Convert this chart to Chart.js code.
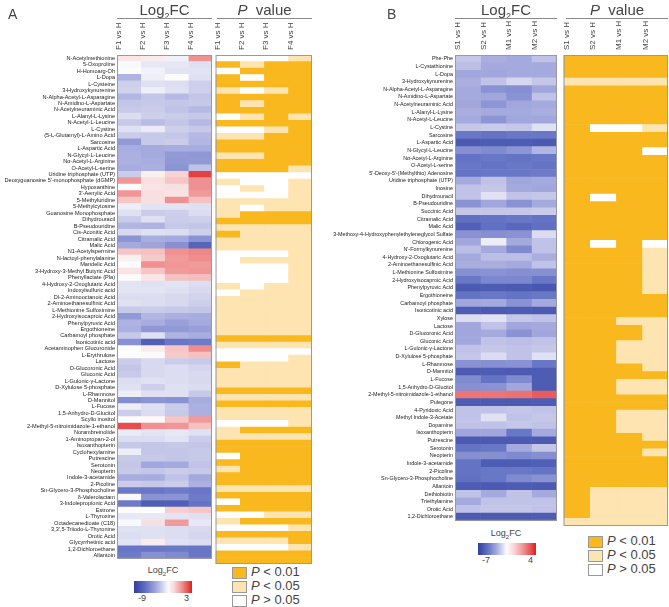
<!DOCTYPE html>
<html><head><meta charset="utf-8">
<script src="https://cdn.jsdelivr.net/npm/chart.js@4.4.1/dist/chart.umd.min.js"></script>
<style>
body{margin:0;background:#fff;font-family:"Liberation Sans",Arial,sans-serif;}
#wrap{position:relative;width:669px;height:607px;overflow:hidden;}
canvas{position:absolute;}
.t{position:absolute;color:#444;white-space:nowrap;}
.hdr{font-size:15px;text-align:center;}
.line{position:absolute;height:1px;background:#888;}
.box{position:absolute;width:13px;height:10px;border:1px solid #999;}
.lg{position:absolute;font-size:13px;color:#444;}
</style></head><body><div id="wrap">
<canvas id="aFC" width="212" height="564" style="left:0px;top:0px"></canvas>
<canvas id="aP" width="99" height="564" style="left:213px;top:0px"></canvas>
<canvas id="bFC" width="227" height="526" style="left:330px;top:0px"></canvas>
<canvas id="bP" width="106" height="526" style="left:562px;top:0px"></canvas>
</div>
<script>
// ---------- DATA ----------
const colsA = ['F1 vs H','F2 vs H','F3 vs H','F4 vs H'];
const colsB = ['S1 vs H','S2 vs H','M1 vs H','M2 vs H'];
const rowsA = ['N-Acetylmethionine','5-Oxoproline','H-Homoarg-Oh','L-Dopa','L-Cysteine','3-Hydroxykynurenine','N-Alpha-Acetyl-L-Asparagine','N-Amidino-L-Aspartate','N-Acetylneuraminic Acid','L-Alanyl-L-Lysine','N-Acetyl-L-Leucine','L-Cystine','(5-L-Glutamyl)-L-Amino Acid','Sarcosine','L-Aspartic Acid','N-Glycyl-L-Leucine','Nα-Acetyl-L-Arginine','O-Acetyl-L-serine','Uridine triphosphate (UTP)',"Deoxyguanosine 5'-monophosphate (dGMP)",'Hypoxanthine',"3'-Aenylic Acid",'5-Methyluridine','5-Methylcytosine','Guanosine Monophosphate','Dihydrouracil','B-Pseudouridine','Cis-Aconitic Acid','Citramalic Acid','Malic Acid','N1-Acetylspermine','N-lactoyl-phenylalanine','Mandelic Acid','3-Hydroxy-3-Methyl Butyric Acid','Phenyllactate (Pla)','4-Hydroxy-2-Oxoglutaric Acid','Indoxylsulfuric acid','Dl-2-Aminooctanoic Acid','2-Aminoethanesulfinic Acid','L-Methionine Sulfoximine','2-Hydroxyisocaproic Acid','Phenylpyruvic Acid','Ergothioneine','Carbamoyl phosphate','Isonicotinic acid','Acetaminophen Glucuronide','L-Erythrulose','Lactose','D-Glucoronic Acid','Gluconic Acid','L-Gulonic-γ-Lactone','D-Xylulose 5-phosphate','L-Rhamnose','D-Mannitol','L-Fucose','1,5-Anhydro-D-Glucitol','Scyllo inositol','2-Methyl-5-nitroimidazole-1-ethanol','Norambreinolide','1-Aminopropan-2-ol','Isoxanthopterin','Cyclohexylamine','Putrescine','Serotonin','Neopterin','Indole-3-acetamide','2-Picoline','Sn-Glycero-3-Phosphocholine','δ-Valerolactam','3-Indolepropionic Acid','Estrone','L-Thyroxine','Octadecanedioate (C18)',"3,3',5-Triiodo-L-Thyronine",'Orotic Acid','Glycyrrhetinic acid','1,2-Dichloroethane','Allantoin'];
const fcF1 = [-1.2,-2.0,-1.9,-4.1,-3.2,-3.1,-4.0,-3.5,-3.4,-2.8,-3.4,-2.7,-3.3,-5.0,-4.3,-4.2,-4.2,-4.3,-3.3,0.8,-1.9,0.8,-0.3,-2.3,-2.7,-3.3,-4.0,-2.9,-5.2,-4.4,-0.3,-1.5,-1.9,-1.1,-1.9,-2.6,-2.6,-2.8,-2.7,-3.4,-5.0,-4.1,-4.2,-3.4,-5.4,-1.9,-1.9,-3.3,-3.5,-3.4,-2.8,-2.7,-2.3,-5.5,-2.3,-3.3,-1.9,2.2,-2.4,-2.8,-3.4,-2.3,-3.4,-3.5,-3.4,-4.3,-3.3,-6.3,-2.0,-6.2,-1.9,-2.5,-2.0,-2.7,-2.8,-2.6,-6.4,-6.2];
const fcF2 = [-1.4,-2.5,-2.2,-2.3,-2.7,-2.3,-3.5,-3.4,-3.3,-3.2,-3.8,-2.4,-3.4,-3.4,-4.4,-4.4,-4.3,-4.2,-1.5,-1.0,-1.1,-1.0,-1.0,-2.6,-3.3,-2.7,-4.1,-2.7,-4.3,-4.6,-0.2,-0.4,0.9,-0.3,-1.2,-2.7,-2.6,-2.8,-2.8,-3.3,-4.0,-4.3,-5.1,-2.7,-7.4,-1.4,-1.8,-2.9,-2.9,-2.9,-2.7,-3.2,-2.7,-5.2,-2.7,-2.8,-1.8,0.9,-2.6,-2.8,-3.5,-3.5,-3.4,-4.5,-3.5,-4.3,-3.4,-6.4,-5.3,-7.5,-1.9,-2.5,-1.0,-2.7,-2.7,-1.4,-6.4,-5.4];
const fcF3 = [-2.2,-2.5,-2.6,-1.9,-2.8,-2.7,-3.9,-3.5,-3.6,-3.3,-3.5,-3.2,-3.5,-3.3,-4.3,-5.0,-5.1,-5.2,-0.6,-0.3,-1.0,-1.1,0.9,-2.6,-3.2,-3.3,-3.4,-2.8,-4.4,-5.4,0.9,0.7,0.8,0.7,-0.2,-2.6,-2.7,-2.9,-2.9,-3.4,-4.2,-4.8,-5.0,-4.1,-6.4,-0.3,-0.4,-3.3,-2.8,-2.8,-2.8,-2.7,-2.7,-5.3,-3.3,-3.4,-0.3,0.8,-2.5,-2.6,-3.4,-3.5,-3.5,-4.4,-3.3,-3.6,-3.3,-6.2,-5.2,-7.4,-0.5,-2.6,0.7,-2.8,-2.8,-2.7,-6.3,-5.6];
const fcF4 = [0.9,-2.7,-2.6,-2.7,-3.2,-3.2,-3.5,-3.4,-3.9,-3.4,-3.9,-3.4,-3.9,-4.0,-4.3,-5.1,-5.0,-3.6,2.4,0.9,0.9,0.7,-0.2,-2.7,-2.8,-3.2,-3.5,-3.2,-5.3,-7.2,1.1,1.0,0.7,0.8,-0.1,-2.8,-2.9,-3.1,-3.2,-3.5,-4.3,-4.4,-4.8,-4.3,-6.2,1.0,-0.2,-3.4,-3.0,-2.9,-2.9,-2.8,-3.4,-4.3,-4.2,-4.2,0.7,-0.2,-2.7,-3.3,-3.5,-3.4,-3.4,-3.6,-3.4,-4.4,-4.2,-6.4,-6.2,-6.5,-0.3,-2.7,-2.5,-2.9,-3.0,-2.8,-6.4,-6.4];
// P categories: 2 = P<0.01, 1 = P<0.05, 0 = P>0.05
const pF1 = [0,2,0,2,2,1,2,2,2,0,2,0,1,2,2,1,2,2,0,1,0,0,1,1,1,2,1,2,1,1,0,0,0,0,0,1,0,1,1,1,1,1,1,2,1,0,0,2,1,1,1,2,1,2,1,1,0,1,1,2,2,0,2,1,2,2,1,2,0,2,0,1,0,2,1,0,2,2];
const pF2 = [0,1,2,0,2,0,2,1,2,1,2,0,1,2,2,1,2,2,0,0,1,0,1,0,2,2,1,1,1,1,0,1,0,0,0,0,1,1,1,1,1,1,1,2,1,0,0,1,1,1,1,2,1,2,1,1,0,2,1,2,2,2,2,2,2,2,1,2,2,2,0,2,0,2,1,0,2,2];
const pF3 = [0,2,2,2,2,1,2,2,2,2,2,1,2,2,2,2,2,2,0,0,0,0,1,1,2,2,1,1,1,1,0,1,0,0,0,1,1,1,1,1,1,1,1,2,1,0,0,1,1,1,1,2,1,2,1,1,0,2,1,2,2,2,2,2,2,2,1,2,2,2,1,2,0,2,1,0,2,2];
const pF4 = [1,2,2,2,2,2,2,2,2,1,2,2,2,2,2,2,2,1,0,1,1,1,1,1,2,2,1,1,1,1,1,1,1,1,1,1,1,1,1,1,1,1,1,2,1,0,1,1,1,1,1,2,1,2,1,1,1,2,1,2,2,2,2,2,2,2,1,2,2,2,1,2,1,2,2,1,2,2];

const rowsB = ['Phe-Phe','L-Cystathionine','L-Dopa','3-Hydroxykynurenine','N-Alpha-Acetyl-L-Asparagine','N-Amidino-L-Aspartate','N-Acetylneuraminic Acid','L-Alanyl-L-Lysine','N-Acetyl-L-Leucine','L-Cystine','Sarcosine','L-Aspartic Acid','N-Glycyl-L-Leucine','Nα-Acetyl-L-Arginine','O-Acetyl-L-serine',"5'-Deoxy-5'-(Methylthio) Adenosine",'Uridine triphosphate (UTP)','Inosine','Dihydrouracil','B-Pseudouridine','Succinic Acid','Citramalic Acid','Malic Acid','3-Methoxy-4-Hydroxyphenylethyleneglycol Sulfate','Chlorogenic Acid',"N'-Formylkynurenine",'4-Hydroxy-2-Oxoglutaric Acid','2-Aminoethanesulfinic Acid','L-Methionine Sulfoximine','2-Hydroxyisocaproic Acid','Phenylpyruvic Acid','Ergothioneine','Carbamoyl phosphate','Isonicotinic acid','Xylose','Lactose','D-Glucoronic Acid','Gluconic Acid','L-Gulonic-γ-Lactone','D-Xylulose 5-phosphate','L-Rhamnose','D-Mannitol','L-Fucose','1,5-Anhydro-D-Glucitol','2-Methyl-5-nitroimidazole-1-ethanol','Pulegone','4-Pyridoxic Acid','Methyl Indole-3-Acetate','Dopamine','Isoxanthopterin','Putrescine','Serotonin','Neopterin','Indole-3-acetamide','2-Picoline','Sn-Glycero-3-Phosphocholine','Allantoin','Dethiobiotin','Triethylamine','Orotic Acid','1,2-Dichloroethane'];
const fcS1 = [-2.8,-3.0,-3.6,-3.4,-3.5,-3.5,-3.6,-3.4,-3.5,-2.8,-5.0,-6.0,-4.3,-5.1,-5.0,-5.1,-3.5,-2.9,-2.9,-4.2,-2.8,-5.2,-5.8,-4.2,-3.6,-3.0,-3.5,-3.4,-4.3,-5.0,-6.0,-5.1,-3.6,-5.9,-2.3,-3.6,-3.6,-3.6,-2.9,-2.8,-4.2,-6.0,-4.4,-4.3,2.2,-5.9,-2.9,-2.9,-2.9,-3.6,-6.0,-5.1,-4.3,-5.1,-5.1,-5.2,-5.9,-2.9,-3.5,-2.9,-6.0];
const fcS2 = [-3.4,-3.5,-3.6,-2.9,-4.2,-3.6,-4.1,-3.5,-4.1,-2.7,-5.1,-5.9,-4.4,-5.0,-5.1,-5.0,-2.9,-2.8,-2.2,-3.6,-2.8,-5.1,-5.2,-4.3,-1.9,-3.5,-3.0,-3.4,-4.2,-4.5,-5.9,-5.0,-3.5,-6.0,-2.2,-2.9,-3.5,-2.9,-2.8,-2.3,-4.3,-5.9,-5.1,-4.2,2.2,-6.0,-2.9,-2.2,-2.9,-3.6,-6.0,-5.0,-4.3,-5.9,-5.0,-5.0,-6.0,-3.5,-2.9,-2.8,-6.0];
const fcM1 = [-3.5,-3.5,-3.5,-2.4,-4.3,-4.2,-3.6,-3.5,-3.6,-2.8,-5.0,-5.9,-4.1,-5.1,-5.0,-5.0,-3.6,-3.5,-2.9,-4.2,-2.8,-5.0,-5.5,-4.2,-3.5,-4.4,-3.0,-3.5,-4.3,-4.5,-6.0,-5.1,-4.2,-5.9,-2.8,-3.6,-4.2,-3.0,-2.9,-2.9,-4.2,-6.0,-4.4,-3.6,2.3,-6.0,-2.8,-2.9,-2.8,-5.0,-6.0,-3.5,-4.4,-5.9,-5.0,-4.4,-5.9,-2.9,-2.9,-2.8,-6.0];
const fcM2 = [-2.9,-3.5,-3.5,-2.8,-3.6,-2.9,-3.5,-3.4,-3.6,-2.2,-5.0,-6.0,-3.2,-5.0,-5.1,-4.9,-3.5,-3.6,-2.8,-3.5,-2.7,-5.1,-5.2,-2.3,-2.9,-2.9,-3.4,-2.9,-4.3,-5.0,-6.1,-5.0,-3.5,-6.0,-2.9,-3.5,-3.6,-2.9,-2.8,-2.2,-5.0,-5.9,-5.9,-5.9,2.8,-5.9,-2.9,-2.8,-2.9,-3.5,-6.0,-2.8,-4.3,-5.8,-5.1,-4.2,-6.0,-3.5,-2.9,-2.9,-5.9];
const pS1 = [2,2,2,1,2,2,2,2,2,2,2,2,2,2,2,2,2,2,2,2,2,2,2,2,2,2,2,2,2,2,2,2,2,2,2,2,2,2,2,2,2,2,2,2,2,2,2,2,2,2,2,2,2,2,2,2,2,2,2,2,1];
const pS2 = [2,2,2,1,2,2,2,2,2,0,2,2,2,2,2,2,2,2,0,2,2,2,2,2,0,2,2,2,2,2,2,2,2,2,2,2,2,2,2,2,2,2,2,2,2,2,2,2,2,2,2,2,2,2,2,2,1,1,1,1,1];
const pM1 = [2,2,2,1,2,2,2,2,2,0,2,2,2,2,2,2,2,2,2,2,2,2,2,2,2,2,2,2,2,2,2,2,2,2,1,2,2,1,1,1,2,2,1,1,2,2,1,1,1,2,2,2,2,2,2,2,1,1,1,1,1];
const pM2 = [2,2,2,1,2,2,2,2,2,1,2,2,0,2,2,2,2,2,2,2,2,2,2,2,0,1,1,1,1,1,1,2,2,2,1,1,1,1,1,1,1,2,1,1,2,2,1,1,1,1,2,1,2,2,2,2,1,1,1,1,1];

const rangeA = {min:-9, max:3, white:-1.9};
const rangeB = {min:-7, max:4, white:-1.6};

// ---------- COLOURS ----------
const blueStops = [[0,[48,62,158]],[0.35,[100,115,196]],[0.65,[165,170,222]],[0.85,[214,215,238]],[1,[252,252,253]]];
const redStops  = [[0,[252,252,253]],[0.25,[248,214,214]],[0.55,[240,150,150]],[0.8,[232,88,88]],[1,[220,30,36]]];
function interp(stops,f){
  f=Math.max(0,Math.min(1,f));
  for(let i=1;i<stops.length;i++){
    if(f<=stops[i][0]){const a=stops[i-1],b=stops[i];const u=(f-a[0])/(b[0]-a[0]);
      return 'rgb('+a[1].map((c,k)=>Math.round(c+(b[1][k]-c)*u)).join(',')+')';}
  }
  return 'rgb('+stops[stops.length-1][1].join(',')+')';
}
function fcColor(v,r){
  if(v<=r.white) return interp(blueStops,(v-r.min)/(r.white-r.min));
  return interp(redStops,(v-r.white)/(r.max-r.white));
}
const pColors = ['#ffffff','#fde4b0','#f9b81e'];

// ---------- CHARTS ----------
const borderPlugin = {id:'frame',afterDatasetsDraw(c){const a=c.chartArea,x=c.ctx;x.save();x.strokeStyle='#9a9a9a';x.lineWidth=1;x.strokeRect(a.left+0.5,a.top+0.5,a.right-a.left-1,a.bottom-a.top-1);x.restore();}};

function heat(id, rows, cols, colorCols, showY, yWidth, fontY){
  const datasets = colorCols.map((colors,j)=>({
    data: rows.map(()=>[j,j+1]), backgroundColor: colors, borderWidth:0,
    barPercentage:1, categoryPercentage:1, grouped:false
  }));
  return new Chart(document.getElementById(id),{
    type:'bar',
    data:{labels:rows, datasets},
    plugins:[borderPlugin],
    options:{
      indexAxis:'y', responsive:false, animation:false,
      layout:{padding:0},
      plugins:{legend:{display:false},tooltip:{enabled:false}},
      scales:{
        x:{type:'linear',position:'top',min:0,max:cols.length,
          afterBuildTicks:s=>{s.ticks=cols.map((c,i)=>({value:i+0.5}));},
          afterFit:s=>{s.height=55;},
          grid:{display:false,drawTicks:false},border:{display:false},
          ticks:{autoSkip:false,minRotation:90,maxRotation:90,padding:5,color:'#444',
            font:{family:'Liberation Sans, Arial',size:8},
            callback:v=>cols[Math.floor(v)]}},
        y:{type:'category',display:showY,
          afterFit:s=>{s.width=yWidth;},
          grid:{display:false,drawTicks:false},border:{display:false},
          ticks:{autoSkip:false,padding:2,color:'#222',font:{family:'Liberation Sans, Arial',size:fontY}}}
      }
    }
  });
}
const fa=[fcF1,fcF2,fcF3,fcF4].map(a=>a.map(v=>fcColor(v,rangeA)));
const pa=[pF1,pF2,pF3,pF4].map(a=>a.map(v=>pColors[v]));
const fb=[fcS1,fcS2,fcM1,fcM2].map(a=>a.map(v=>fcColor(v,rangeB)));
const pb=[pS1,pS2,pM1,pM2].map(a=>a.map(v=>pColors[v]));
heat('aFC',rowsA,colsA,fa,true,117,5.6);
heat('aP',rowsA,colsA,pa,false,0,5.6);
heat('bFC',rowsB,colsB,fb,true,125,5.4);
heat('bP',rowsB,colsB,pb,false,0,5.4);

// ---------- TEXT / LEGENDS ----------
const W=document.getElementById('wrap');
function add(html,style,cls){const d=document.createElement('div');d.className=cls||'t';d.innerHTML=html;d.style.cssText+=style;W.appendChild(d);return d;}
function gradient(r){const s=[];for(let i=0;i<=40;i++){const v=r.min+(r.max-r.min)*i/40;s.push(fcColor(v,r)+' '+(i*2.5)+'%');}return 'linear-gradient(to right,'+s.join(',')+')';}
function panel(letter,lx,fcL,fcR,pL,pR){
  add(letter,'left:'+lx+'px;top:6px;font-size:14px;');
  add('Log<sub style="font-size:9px">2</sub>FC','left:'+fcL+'px;width:'+(fcR-fcL)+'px;top:1px;','t hdr');
  add('<i>P</i>&nbsp; value','left:'+pL+'px;width:'+(pR-pL)+'px;top:1px;','t hdr');
  add('','left:'+fcL+'px;width:'+(fcR-fcL)+'px;top:18px;','line');
  add('','left:'+pL+'px;width:'+(pR-pL)+'px;top:18px;','line');
}
panel('A',8,117,212,217,312);
panel('B',387,455,557,566,668);
function legends(cx,ty,r,barL,barT,lo,hi,boxL,boxT){
  add('Log<sub style="font-size:6px">2</sub>FC','left:'+(cx-30)+'px;width:60px;text-align:center;top:'+ty+'px;font-size:9px;');
  add('','left:'+barL+'px;top:'+barT+'px;width:58px;height:12px;background:'+gradient(r)+';','t');
  add(lo,'left:'+(barL+4)+'px;top:'+(barT+12)+'px;font-size:9px;');
  add(hi,'left:'+(barL+50)+'px;top:'+(barT+12)+'px;font-size:9px;');
  const lab=['<i>P</i> &lt; 0.01','<i>P</i> &lt; 0.05','<i>P</i> &gt; 0.05'];
  for(let i=0;i<3;i++){
    add('','left:'+boxL+'px;top:'+(boxT+i*14)+'px;background:'+pColors[2-i]+';','box');
    add(lab[i],'left:'+(boxL+19)+'px;top:'+(boxT+i*14-3)+'px;','lg');
  }
}
legends(163,565,rangeA,134,581,'-9','3',232,567);
legends(506,528,rangeB,478,543,'-7','4',588,536);
</script></body></html>
